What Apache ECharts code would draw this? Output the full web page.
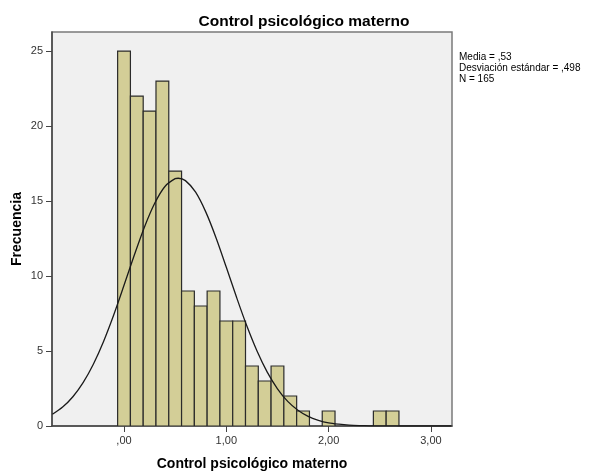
<!DOCTYPE html>
<html>
<head>
<meta charset="utf-8">
<script src="https://cdn.jsdelivr.net/npm/echarts@6/dist/echarts.min.js"></script>
<style>
html,body{margin:0;padding:0;background:#fff;}
#c{width:589px;height:472px;}
</style>
</head>
<body>
<div id="c"></div>
<script>
// ---- data ----
var titleText = 'Control psicológico materno';
var xName = 'Control psicológico materno';
var yName = 'Frecuencia';
var binWidth = 0.125;
var binCenters = [0, 0.125, 0.25, 0.375, 0.5, 0.625, 0.75, 0.875, 1.0, 1.125, 1.25, 1.375, 1.5, 1.625, 1.75, 1.875, 2.0, 2.125, 2.25, 2.375, 2.5, 2.625];
var binCounts  = [25, 22, 21, 23, 17, 9, 8, 9, 7, 7, 4, 3, 4, 2, 1, 0, 1, 0, 0, 0, 1, 1];
var curveX = [-0.7,-0.6,-0.5,-0.4,-0.3,-0.2,-0.1,0.0,0.1,0.2,0.3,0.4,0.5,0.53,0.6,0.7,0.8,0.9,1.0,1.1,1.2,1.3,1.4,1.5,1.6,1.7,1.8,1.9,2.0,2.1,2.2,2.3,2.4,2.5,2.6,2.7,2.8,2.9,3.0,3.1,3.2];
var curveY = [0.78,1.26,1.95,2.89,4.12,5.64,7.42,9.38,11.38,13.27,14.85,15.97,16.49,16.52,16.36,15.59,14.26,12.54,10.58,8.58,6.68,5.00,3.59,2.48,1.64,1.05,0.64,0.38,0.21,0.12,0.06,0.03,0.014,0.006,0.003,0.001,0,0,0,0,0];
var xTicks = [0, 1, 2, 3];
var xTickLabels = [',00', '1,00', '2,00', '3,00'];
var yTicks = [0, 5, 10, 15, 20, 25];
var statsLines = ['Media = ,53', 'Desviación estándar = ,498', 'N = 165'];

// ---- chart ----
var chart = echarts.init(document.getElementById('c'), null, {renderer: 'canvas'});
var font = 'Liberation Sans, Arial, sans-serif';

var barData = binCenters.map(function (c, i) { return [c - binWidth / 2, c + binWidth / 2, binCounts[i]]; })
  .filter(function (d) { return d[2] > 0; });
var curveData = curveX.map(function (x, i) { return [x, curveY[i]]; });

var option = {
  animation: false,
  backgroundColor: '#ffffff',
  title: {
    text: titleText,
    left: 299, textAlign: 'center', top: 9,
    textStyle: {fontFamily: font, fontSize: 15.5, fontWeight: 'bold', color: '#000'}
  },
  grid: {
    left: 52, right: 137, top: 32, bottom: 46,
    containLabel: false, outerBoundsMode: 'none',
    show: true, backgroundColor: '#F0F0F0', borderColor: '#7a7a7a', borderWidth: 1.5
  },
  xAxis: {
    type: 'value', min: -0.704, max: 3.206,
    name: xName, nameLocation: 'middle', nameGap: 31, nameMoveOverlap: false,
    nameTextStyle: {fontFamily: font, fontSize: 14, fontWeight: 'bold', color: '#000'},
    axisLine: {show: true, onZero: false, lineStyle: {color: '#444', width: 1.5}},
    axisTick: {show: true, inside: false, length: 6, customValues: xTicks, lineStyle: {color: '#444'}},
    axisLabel: {
      customValues: xTicks, margin: 9,
      fontFamily: font, fontSize: 11, color: '#333',
      formatter: function (v) { var i = xTicks.indexOf(Math.round(v)); return i >= 0 ? xTickLabels[i] : ''; }
    },
    splitLine: {show: false}
  },
  yAxis: {
    type: 'value', min: 0, max: 26.27,
    name: yName, nameLocation: 'middle', nameGap: 27.5, nameMoveOverlap: false,
    nameTextStyle: {fontFamily: font, fontSize: 14, fontWeight: 'bold', color: '#000'},
    axisLine: {show: true, onZero: false, lineStyle: {color: '#444', width: 1.5}},
    axisTick: {show: true, inside: false, length: 6, customValues: yTicks, lineStyle: {color: '#444'}},
    axisLabel: {customValues: yTicks, margin: 9, fontFamily: font, fontSize: 11, color: '#333'},
    splitLine: {show: false}
  },
  graphic: [{
    type: 'text', left: 459, top: 52,
    style: {text: statsLines.join('\n'), font: '10px ' + font, fill: '#000', lineHeight: 11}
  }],
  series: [{
    type: 'custom',
    clip: true,
    data: barData,
    encode: {x: [0, 1], y: 2},
    renderItem: function (params, api) {
      var p0 = api.coord([api.value(0), api.value(2)]);
      var p1 = api.coord([api.value(1), 0]);
      return {
        type: 'rect',
        shape: {x: p0[0], y: p0[1], width: p1[0] - p0[0], height: p1[1] - p0[1]},
        style: {fill: '#D3CE97', stroke: '#2b2b2b', lineWidth: 1.2}
      };
    },
    z: 2
  }, {
    type: 'line',
    data: curveData,
    smooth: 0.3,
    symbol: 'none',
    clip: true,
    lineStyle: {color: '#1a1a1a', width: 1.3},
    z: 3
  }]
};
chart.setOption(option);
</script>
</body>
</html>
